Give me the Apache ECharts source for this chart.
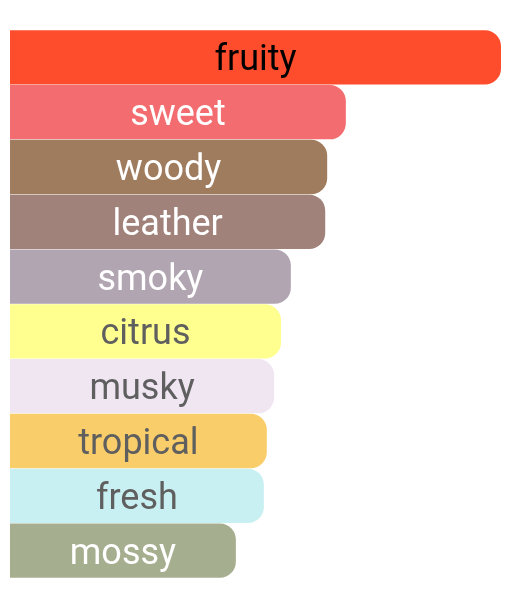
<!DOCTYPE html>
<html>
<head>
<meta charset="utf-8">
<script src="https://cdn.jsdelivr.net/npm/echarts@6/dist/echarts.min.js"></script>
<style>
  html, body { margin: 0; padding: 0; background: #fff; }
  #chart { width: 526px; height: 607px; }
</style>
</head>
<body>
<div id="chart"></div>
<script>
const categories = ['fruity', 'sweet', 'woody', 'leather', 'smoky', 'citrus', 'musky', 'tropical', 'fresh', 'mossy'];
const values = [100, 68.4, 64.6, 64.2, 57.2, 55.2, 53.8, 52.3, 51.7, 46.0];

// bar fill and label colour per category
const barColors = ['#fe4d2c', '#f36d70', '#a07c5e', '#a0827a', '#b1a5b1', '#ffff8f', '#f0e6f2', '#f9ce6a', '#c8f0f2', '#a6ae90'];
const textColors = ['#000', '#fff', '#fff', '#fff', '#fff', '#5f5f5f', '#5f5f5f', '#5f5f5f', '#5f5f5f', '#fff'];

const chart = echarts.init(document.getElementById('chart'), null, { renderer: 'canvas' });

chart.setOption({
  animation: false,
  grid: { left: 10, right: 25, top: 30, bottom: 29, containLabel: false },
  xAxis: { type: 'value', min: 0, max: 100, show: false },
  yAxis: { type: 'category', data: categories, inverse: true, show: false },
  series: [{
    type: 'bar',
    barCategoryGap: '1%',
    data: values.map((v, i) => ({
      value: v,
      itemStyle: { color: barColors[i] },
      label: { color: textColors[i] }
    })),
    itemStyle: { borderRadius: [0, 16, 16, 0] },
    label: {
      show: true,
      position: 'inside',
      formatter: p => categories[p.dataIndex],
      fontFamily: 'Roboto',
      fontSize: 36,
      offset: [0, 4]
    }
  }]
});
</script>
</body>
</html>
